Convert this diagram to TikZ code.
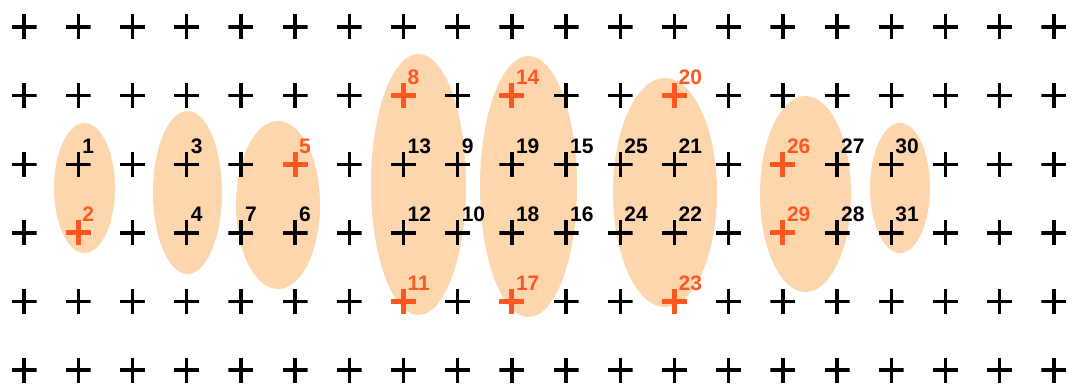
\documentclass[tikz,border=0pt]{standalone}
\usepackage{fontspec}
\setmainfont{Liberation Sans}
\usetikzlibrary{shapes.geometric, calc}
\definecolor{verm}{RGB}{255,87,34}
\definecolor{pele}{RGB}{254,214,174}
\tikzset{
  cruz/.style n args = {2}{inner sep=0pt, minimum size=25pt,
    path picture={\draw[#1, line width=#2]
      (path picture bounding box.north) -- (path picture bounding box.south)
      (path picture bounding box.west) -- (path picture bounding box.east);}},
  mais/.style = {cruz={black}{3.4pt}},
  maisv/.style = {cruz={verm}{5pt}},
  zona/.style = {ellipse, fill=pele, inner sep=0pt},
  num/.style = {font=\fontsize{21}{21}\selectfont\bfseries, inner sep=0pt,
    anchor=base west}
}

\begin{document}
\begin{tikzpicture}[x=1pt, y=-1pt]
  \useasboundingbox (0,0) rectangle (1076,385);
  % zonas
  \foreach \x/\y/\w/\h [count=\k] in {84.5/188/61/130, 187.5/192.5/69/163,
      278/205/84/168, 418.5/184.5/95/261, 528.5/186.5/97/261,
      665/192.5/104/229, 805.5/194/91/196, 900/188/60/130}
    \node [zona, minimum width=\w pt, minimum height=\h pt] (z\k) at (\x,\y) {};
  % grade
  \foreach \c in {0,...,19}
    \foreach \r in {0,...,5}
      \node [mais] (p-\c-\r) at (24+54.2*\c, 27+68.6*\r) {};
  % pontos vermelhos
  \foreach \c/\r in {1/3, 5/2, 7/1, 7/4, 9/1, 9/4, 12/1, 12/4, 14/2, 14/3}
    \node [maisv] (v-\c-\r) at (p-\c-\r) {};
  % numeros
  \foreach \c/\r/\t/\cor in {1/2/1/black, 1/3/2/verm, 3/2/3/black, 3/3/4/black,
      5/2/5/verm, 5/3/6/black, 4/3/7/black, 7/1/8/verm, 8/2/9/black,
      8/3/10/black, 7/4/11/verm, 7/3/12/black, 7/2/13/black, 9/1/14/verm,
      10/2/15/black, 10/3/16/black, 9/4/17/verm, 9/3/18/black, 9/2/19/black,
      12/1/20/verm, 12/2/21/black, 12/3/22/black, 12/4/23/verm, 11/3/24/black,
      11/2/25/black, 14/2/26/verm, 15/2/27/black, 15/3/28/black,
      14/3/29/verm, 16/2/30/black, 16/3/31/black}
    \node [num, text=\cor] (n\t) at ($(p-\c-\r)+(4,-11)$) {\t};
\end{tikzpicture}
\end{document}
